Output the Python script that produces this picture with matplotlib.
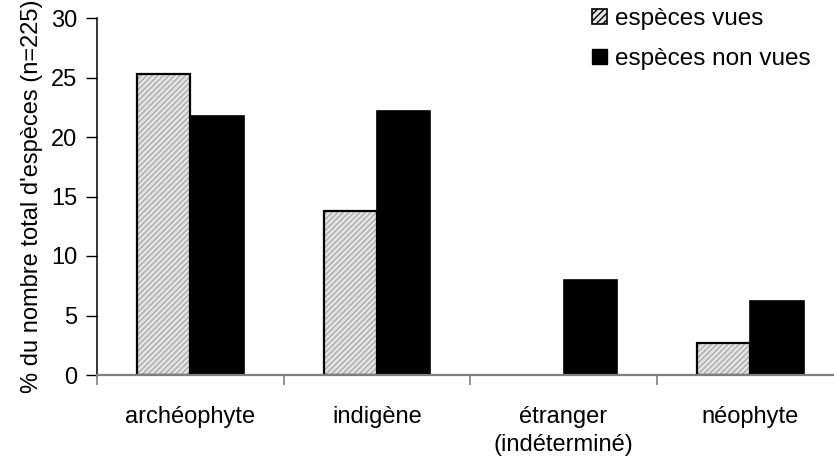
"""Répartition des espèces vues / non vues par statut d'indigénat."""

from __future__ import annotations

import matplotlib

matplotlib.use("Agg")

import matplotlib.pyplot as plt
import numpy as np
from matplotlib.patches import Patch

plt.rcParams["font.family"] = ["Liberation Sans", "DejaVu Sans"]

CATEGORIES = ["archéophyte", "indigène", "étranger\n(indéterminé)", "néophyte"]
SERIES_LABELS = ["espèces vues", "espèces non vues"]
VUES = [25.33, 13.78, 0.0, 2.67]
NON_VUES = [21.78, 22.22, 8.0, 6.22]
Y_TICKS = [0, 5, 10, 15, 20, 25, 30]
Y_LABEL = "% du nombre total d'espèces (n=225)"

HATCH_BG = "#e4e4e4"
HATCH_FG = "#ababab"
FONT_SIZE = 17
LEGEND_SIZE = 17.5


def draw_bars(ax: plt.Axes) -> None:
    """Barres groupées : hachures grises pour les vues, noir pour les non vues."""
    x = np.arange(len(CATEGORIES))
    width = 0.286
    # pas de contour pour les barres nulles
    outline = [1.6 if v > 0 else 0 for v in VUES]
    # hachures dessinées à part pour garder un contour noir
    ax.bar(x - width / 2, VUES, width, color=HATCH_BG, edgecolor=HATCH_FG,
           hatch="//////", linewidth=0, zorder=2)
    ax.bar(x - width / 2, VUES, width, fill=False, edgecolor="black",
           linewidth=outline, zorder=3)
    ax.bar(x + width / 2, NON_VUES, width, color="black", edgecolor="black",
           linewidth=1.2, zorder=3)

    ax.set_xlim(-0.5, len(CATEGORIES) - 0.5)
    ax.set_ylim(0, 30)
    ax.set_yticks(Y_TICKS)
    ax.set_xticks(x)
    ax.set_xticklabels(CATEGORIES, fontsize=FONT_SIZE, linespacing=1.4)
    ax.tick_params(axis="x", length=0, pad=22)
    ax.set_xticks(np.arange(len(CATEGORIES) + 1) - 0.5, minor=True)
    ax.tick_params(axis="x", which="minor", length=7, width=1.2, color="#7f7f7f",
                   direction="out")
    ax.tick_params(axis="y", length=8, width=1, direction="out",
                   labelsize=FONT_SIZE, pad=6, color="black")
    ax.set_ylabel(Y_LABEL, fontsize=FONT_SIZE, labelpad=6)

    for side in ("top", "right"):
        ax.spines[side].set_visible(False)
    ax.spines["left"].set_color("black")
    ax.spines["left"].set_linewidth(1.1)
    ax.spines["bottom"].set_color("#7f7f7f")
    ax.spines["bottom"].set_linewidth(1.6)
    ax.spines["bottom"].set_zorder(4)


def main() -> None:
    fig = plt.figure(figsize=(8.34, 4.57), dpi=100)
    ax = fig.add_axes([97 / 834, 82 / 457, 746.5 / 834, 357 / 457])
    draw_bars(ax)

    handles = [
        Patch(facecolor=HATCH_BG, edgecolor="black", hatch="/////", linewidth=1.2),
        Patch(facecolor="black", edgecolor="black"),
    ]
    fig.legend(handles, SERIES_LABELS, loc="upper left",
               bbox_to_anchor=(575 / 834, 1.02), frameon=False, fontsize=LEGEND_SIZE,
               handlelength=0.6, handleheight=0.6, handletextpad=0.35,
               labelspacing=0.75, borderpad=0.2)

    fig.savefig("out.png", dpi=100)
    plt.close(fig)


if __name__ == "__main__":
    main()
